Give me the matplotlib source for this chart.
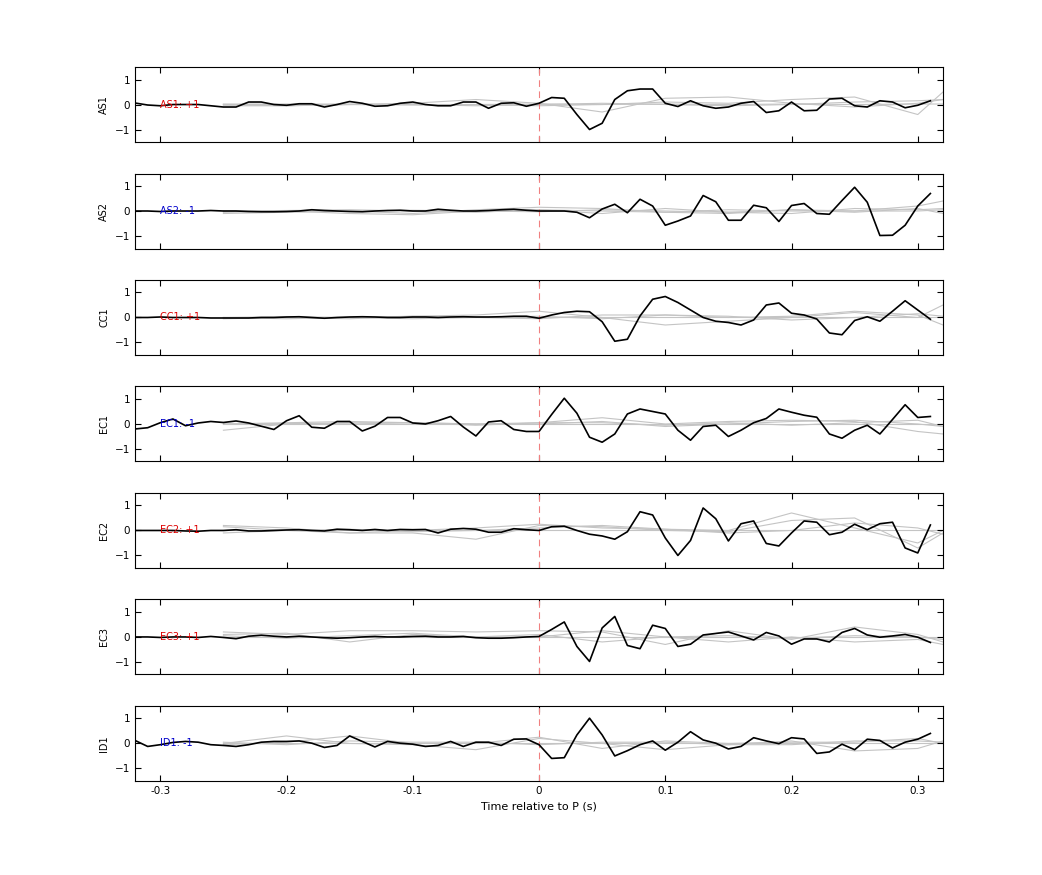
import numpy as np
import matplotlib
matplotlib.use("Agg")
import matplotlib.pyplot as plt

STATIONS = ["AS1", "AS2", "CC1", "EC1", "EC2", "EC3", "ID1"]
POLARITY = ["+1", "-1", "+1", "-1", "+1", "+1", "-1"]
LABEL_COLORS = ["#dd0000", "#0000cc", "#dd0000", "#0000cc", "#dd0000", "#dd0000", "#0000cc"]

# black trace sampled every 0.01 s from -0.32 to 0.31
t_main = np.round(np.arange(-0.32, 0.315, 0.01), 2)

AS1 = [0.06, -0.02, -0.05, 0.0, 0.0, 0.0, -0.05, -0.1, -0.1, 0.1, 0.1, 0.0,
       -0.03, 0.03, 0.03, -0.1, 0.0, 0.12, 0.05, -0.07, -0.05, 0.05, 0.1, 0.0,
       -0.05, -0.05, 0.1, 0.1, -0.15, 0.05, 0.07, -0.07, 0.05, 0.28, 0.25, -0.4,
       -1.0, -0.75, 0.2, 0.55, 0.62, 0.62, 0.05, -0.08, 0.15, -0.05, -0.15, -0.1,
       0.05, 0.12, -0.32, -0.25, 0.1, -0.25, -0.23, 0.22, 0.25, -0.05, -0.1, 0.15,
       0.1, -0.13, -0.03, 0.15]
AS2 = [0.0, 0.0, -0.02, 0.0, 0.0, 0.0, 0.02, 0.0, 0.0, -0.02, -0.03, -0.03,
       -0.02, 0.0, 0.05, 0.02, 0.0, -0.02, -0.03, 0.0, 0.02, 0.03, 0.0, 0.0,
       0.07, 0.03, 0.0, 0.0, 0.02, 0.05, 0.07, 0.03, 0.0, 0.0, 0.0, -0.05,
       -0.27, 0.08, 0.27, -0.07, 0.47, 0.2, -0.57, -0.4, -0.2, 0.62, 0.37, -0.37,
       -0.37, 0.23, 0.13, -0.42, 0.22, 0.3, -0.1, -0.13, 0.42, 0.95, 0.35, -0.98,
       -0.97, -0.57, 0.2, 0.7]
CC1 = [0.0, 0.0, 0.02, 0.0, 0.0, 0.0, -0.02, -0.02, -0.02, -0.02, 0.0, 0.0,
       0.02, 0.03, 0.0, -0.03, 0.0, 0.02, 0.03, 0.02, 0.0, 0.0, 0.02, 0.02,
       0.0, 0.02, 0.03, 0.02, 0.02, 0.03, 0.05, 0.05, -0.03, 0.1, 0.2, 0.25,
       0.23, -0.17, -0.95, -0.87, 0.06, 0.73, 0.84, 0.6, 0.3, 0.0, -0.15, -0.2,
       -0.3, -0.1, 0.5, 0.58, 0.17, 0.1, -0.06, -0.62, -0.69, -0.12, 0.03, -0.15,
       0.25, 0.67, 0.3, -0.07]
EC1 = [-0.2, -0.15, 0.05, 0.2, -0.07, 0.04, 0.1, 0.06, 0.12, 0.04, -0.09, -0.22,
       0.13, 0.33, -0.13, -0.17, 0.1, 0.1, -0.28, -0.09, 0.26, 0.26, 0.04, 0.0,
       0.13, 0.3, -0.12, -0.48, 0.08, 0.13, -0.22, -0.3, -0.3, 0.38, 1.03, 0.43,
       -0.53, -0.73, -0.4, 0.4, 0.6, 0.5, 0.4, -0.25, -0.65, -0.1, -0.05, -0.5,
       -0.25, 0.05, 0.22, 0.6, 0.47, 0.35, 0.27, -0.4, -0.57, -0.25, -0.05, -0.4,
       0.18, 0.77, 0.26, 0.3]
EC2 = [0.0, 0.0, 0.0, 0.0, -0.02, -0.03, 0.0, 0.0, 0.03, -0.02, -0.02, 0.0,
       0.02, 0.03, 0.0, -0.02, 0.05, 0.03, 0.0, 0.04, 0.0, 0.04, 0.03, 0.04,
       -0.1, 0.05, 0.08, 0.05, -0.07, -0.07, 0.07, 0.03, 0.0, 0.15, 0.17, 0.0,
       -0.15, -0.22, -0.35, -0.05, 0.75, 0.62, -0.3, -1.0, -0.4, 0.9, 0.47, -0.42,
       0.27, 0.38, -0.52, -0.62, -0.1, 0.38, 0.33, -0.17, -0.07, 0.25, 0.03, 0.27,
       0.33, -0.7, -0.9, 0.22]
EC3 = [0.0, 0.0, -0.02, 0.0, 0.0, -0.02, 0.02, -0.02, -0.07, 0.03, 0.07, 0.03,
       0.0, 0.03, 0.0, -0.03, -0.05, -0.03, 0.0, 0.02, 0.0, 0.0, 0.02, 0.03,
       0.0, 0.0, 0.02, -0.03, -0.05, -0.05, -0.03, 0.0, 0.02, 0.3, 0.6, -0.38,
       -0.98, 0.36, 0.82, -0.34, -0.47, 0.47, 0.34, -0.38, -0.29, 0.08, 0.14, 0.2,
       0.04, -0.12, 0.18, 0.04, -0.29, -0.08, -0.08, -0.2, 0.18, 0.34, 0.08, -0.01,
       0.04, 0.1, -0.01, -0.22]
ID1 = [0.12, -0.12, -0.05, 0.04, 0.08, 0.05, -0.05, -0.08, -0.12, -0.05, 0.05, 0.08,
       0.08, 0.1, 0.01, -0.16, -0.08, 0.3, 0.08, -0.14, 0.08, 0.01, -0.03, -0.12,
       -0.08, 0.08, -0.12, 0.05, 0.05, -0.08, 0.17, 0.18, -0.05, -0.6, -0.57, 0.34,
       1.01, 0.34, -0.5, -0.29, -0.05, 0.1, -0.27, 0.05, 0.47, 0.14, 0.01, -0.22,
       -0.12, 0.23, 0.1, -0.01, 0.23, 0.18, -0.4, -0.34, -0.03, -0.25, 0.17, 0.12,
       -0.18, 0.05, 0.17, 0.4]
BLACK = [AS1, AS2, CC1, EC1, EC2, EC3, ID1]

# grey comparison traces, coarse samples
t_grey = [-0.25, -0.2, -0.15, -0.1, -0.05, 0.0, 0.05, 0.1, 0.15, 0.2, 0.25, 0.3, 0.32]
GREY = [
    [[-0.05, -0.05, 0.0, 0.05, 0.2, 0.05, -0.3, 0.25, 0.3, 0.05, -0.1, 0.05, 0.2],
     [0.0, 0.02, 0.0, -0.02, 0.0, -0.05, 0.0, 0.1, 0.05, 0.2, 0.3, -0.4, 0.5],
     [0.02, 0.0, 0.02, 0.0, 0.0, 0.02, 0.0, 0.02, 0.0, 0.02, 0.0, 0.02, 0.02],
     [0.0, -0.05, 0.0, 0.0, -0.05, 0.0, 0.05, 0.0, -0.05, 0.0, 0.1, 0.15, 0.2]],
    [[-0.1, -0.05, 0.0, -0.1, 0.05, 0.15, 0.1, -0.05, -0.1, 0.05, 0.0, 0.2, 0.4],
     [0.0, 0.02, 0.05, 0.0, -0.05, 0.05, -0.1, 0.1, -0.05, -0.1, 0.1, 0.05, 0.1],
     [0.0, -0.03, 0.0, 0.03, 0.0, -0.03, 0.05, 0.0, -0.05, 0.05, -0.05, 0.1, -0.1],
     [-0.05, 0.0, -0.1, -0.15, 0.0, 0.05, 0.0, -0.05, 0.05, 0.0, 0.0, 0.0, 0.05]],
    [[0.0, 0.0, 0.0, 0.05, 0.1, 0.25, 0.0, -0.3, -0.15, 0.0, 0.2, 0.0, 0.5],
     [-0.05, 0.0, -0.05, 0.05, 0.0, -0.05, 0.1, 0.1, 0.0, 0.05, 0.25, 0.1, -0.3],
     [0.0, 0.03, 0.0, 0.0, 0.0, 0.0, 0.0, 0.0, 0.0, 0.0, 0.0, 0.0, 0.0],
     [0.0, -0.05, 0.0, -0.05, 0.0, 0.05, -0.05, 0.1, 0.05, -0.1, 0.0, 0.15, 0.05]],
    [[-0.25, 0.0, 0.05, 0.05, 0.0, 0.05, 0.25, 0.0, 0.1, 0.15, 0.1, -0.3, -0.4],
     [0.0, 0.05, 0.1, 0.05, 0.0, 0.0, 0.1, -0.1, 0.0, 0.1, 0.15, 0.0, -0.1],
     [0.0, 0.0, 0.0, 0.0, 0.0, 0.0, 0.0, 0.0, 0.0, 0.0, 0.0, 0.0, 0.0],
     [0.0, 0.02, 0.0, 0.05, -0.05, 0.05, 0.05, -0.05, 0.05, -0.05, 0.05, 0.15, -0.1]],
    [[0.2, 0.1, -0.1, -0.1, -0.35, 0.2, 0.15, 0.0, -0.05, 0.4, 0.5, -0.7, -0.1],
     [0.15, 0.0, -0.1, 0.0, 0.1, 0.25, 0.1, 0.05, 0.0, 0.7, 0.1, -0.5, 0.0],
     [0.0, 0.0, 0.0, 0.0, 0.0, 0.0, 0.0, 0.0, 0.0, 0.0, 0.0, 0.0, 0.0],
     [-0.1, 0.0, 0.05, -0.05, 0.0, 0.1, 0.2, 0.05, -0.1, 0.0, 0.3, 0.1, -0.15]],
    [[0.2, 0.1, 0.25, 0.25, 0.2, 0.25, 0.2, -0.3, 0.25, -0.1, 0.4, 0.1, -0.2],
     [0.1, 0.15, -0.2, 0.1, 0.0, 0.0, 0.25, 0.0, -0.2, 0.0, -0.2, -0.1, -0.3],
     [0.0, 0.0, 0.0, 0.0, 0.0, 0.0, 0.0, 0.0, 0.0, 0.0, 0.0, 0.0, 0.0],
     [0.05, -0.05, 0.05, 0.15, 0.0, 0.1, -0.2, 0.0, 0.05, -0.05, 0.05, 0.0, -0.1]],
    [[0.0, 0.3, 0.0, -0.05, -0.25, 0.2, 0.0, -0.25, -0.05, 0.1, -0.3, -0.2, 0.1],
     [-0.05, 0.05, 0.3, 0.0, 0.0, 0.25, -0.2, 0.1, 0.0, 0.05, 0.05, 0.2, 0.0],
     [0.0, 0.0, 0.0, 0.0, 0.0, 0.0, 0.0, 0.0, 0.0, 0.0, 0.0, 0.0, 0.0],
     [0.05, -0.05, 0.1, 0.05, 0.05, -0.05, 0.05, 0.05, -0.05, -0.05, 0.1, 0.1, 0.05]],
]

fig = plt.figure(figsize=(10.42, 8.75), dpi=100)
left, width, height, step = 0.1296, 0.7754, 0.0857, 0.1217
for k, name in enumerate(STATIONS):
    ax = fig.add_axes([left, 0.8377 - k * step, width, height])
    for g in GREY[k]:
        ax.plot(t_grey, g, color="#c4c4c4", lw=0.8, zorder=1)
    ax.axvline(0, color="#f08080", lw=0.8, ls=(0, (6, 4)), zorder=2)
    ax.plot(t_main, BLACK[k], color="black", lw=1.2, zorder=3)
    ax.text(-0.3, 0, f"{name}: {POLARITY[k]}", color=LABEL_COLORS[k],
            fontsize=7, va="center", ha="left", zorder=4)
    ax.set_xlim(-0.32, 0.32)
    ax.set_ylim(-1.5, 1.5)
    ax.set_yticks([-1, 0, 1])
    ax.set_xticks([-0.3, -0.2, -0.1, 0, 0.1, 0.2, 0.3])
    ax.tick_params(direction="in", top=True, right=True, labelsize=7.5, length=4)
    ax.set_ylabel(name, fontsize=7)
    if k < len(STATIONS) - 1:
        ax.set_xticklabels([])
    else:
        ax.set_xticklabels(["-0.3", "-0.2", "-0.1", "0", "0.1", "0.2", "0.3"])
        ax.set_xlabel("Time relative to P (s)", fontsize=8)

fig.savefig("out.png", dpi=100, facecolor="white")
